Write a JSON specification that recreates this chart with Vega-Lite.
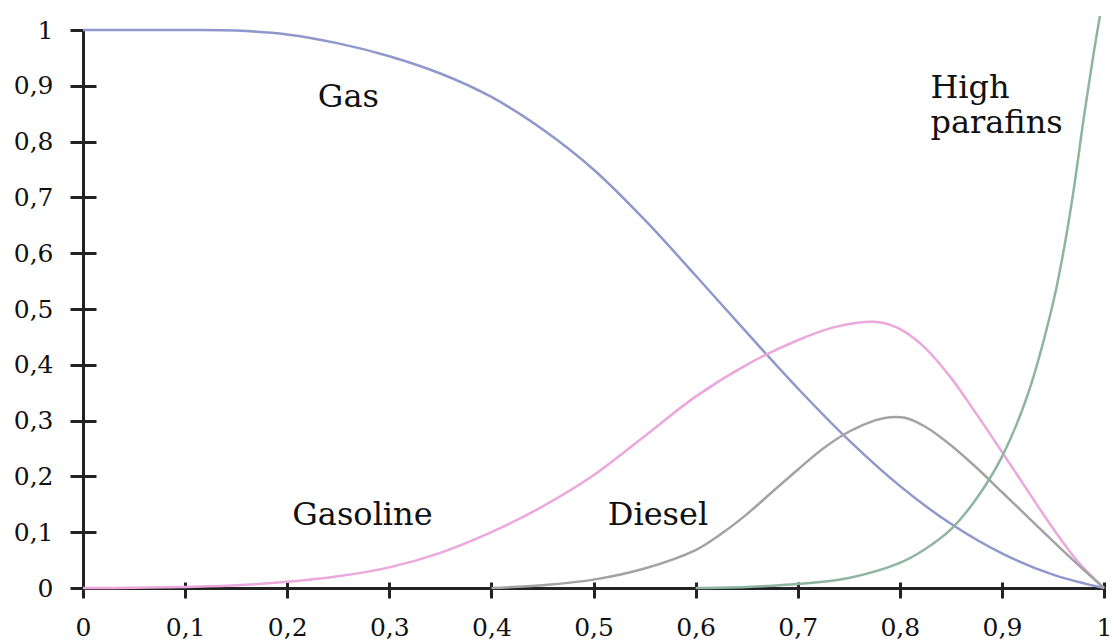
{
  "$schema": "https://vega.github.io/schema/vega-lite/v6.json",
  "width": 1021,
  "height": 558,
  "autosize": "none",
  "padding": {"left": 83, "top": 30, "right": 11, "bottom": 55},
  "background": "white",
  "config": {"view": {"stroke": null}, "font": "DejaVu Serif"},
  "datasets": {
    "curves": [
      {"s": "Gas", "x": 0, "y": 1}, {"s": "Gas", "x": 0.1, "y": 1}, {"s": "Gas", "x": 0.15, "y": 0.999}, {"s": "Gas", "x": 0.2, "y": 0.992},
      {"s": "Gas", "x": 0.25, "y": 0.976}, {"s": "Gas", "x": 0.3, "y": 0.953}, {"s": "Gas", "x": 0.35, "y": 0.922}, {"s": "Gas", "x": 0.4, "y": 0.88},
      {"s": "Gas", "x": 0.45, "y": 0.822}, {"s": "Gas", "x": 0.5, "y": 0.75}, {"s": "Gas", "x": 0.55, "y": 0.66}, {"s": "Gas", "x": 0.6, "y": 0.56},
      {"s": "Gas", "x": 0.65, "y": 0.458}, {"s": "Gas", "x": 0.7, "y": 0.358}, {"s": "Gas", "x": 0.75, "y": 0.265}, {"s": "Gas", "x": 0.8, "y": 0.183},
      {"s": "Gas", "x": 0.85, "y": 0.115}, {"s": "Gas", "x": 0.9, "y": 0.062}, {"s": "Gas", "x": 0.95, "y": 0.024}, {"s": "Gas", "x": 1, "y": 0},
      {"s": "Gasoline", "x": 0, "y": 0}, {"s": "Gasoline", "x": 0.05, "y": 0.0005}, {"s": "Gasoline", "x": 0.1, "y": 0.002}, {"s": "Gasoline", "x": 0.15, "y": 0.005},
      {"s": "Gasoline", "x": 0.2, "y": 0.011}, {"s": "Gasoline", "x": 0.25, "y": 0.021}, {"s": "Gasoline", "x": 0.3, "y": 0.037}, {"s": "Gasoline", "x": 0.35, "y": 0.063},
      {"s": "Gasoline", "x": 0.4, "y": 0.1}, {"s": "Gasoline", "x": 0.45, "y": 0.146}, {"s": "Gasoline", "x": 0.5, "y": 0.202}, {"s": "Gasoline", "x": 0.55, "y": 0.272},
      {"s": "Gasoline", "x": 0.6, "y": 0.343}, {"s": "Gasoline", "x": 0.65, "y": 0.4}, {"s": "Gasoline", "x": 0.7, "y": 0.444}, {"s": "Gasoline", "x": 0.735, "y": 0.467},
      {"s": "Gasoline", "x": 0.76, "y": 0.476}, {"s": "Gasoline", "x": 0.775, "y": 0.477}, {"s": "Gasoline", "x": 0.79, "y": 0.472}, {"s": "Gasoline", "x": 0.805, "y": 0.459},
      {"s": "Gasoline", "x": 0.825, "y": 0.43}, {"s": "Gasoline", "x": 0.85, "y": 0.377},
      {"s": "Gasoline", "x": 0.875, "y": 0.312}, {"s": "Gasoline", "x": 0.9, "y": 0.244}, {"s": "Gasoline", "x": 0.925, "y": 0.175}, {"s": "Gasoline", "x": 0.95, "y": 0.107},
      {"s": "Gasoline", "x": 0.975, "y": 0.046}, {"s": "Gasoline", "x": 1, "y": 0},
      {"s": "Diesel", "x": 0.4, "y": 0}, {"s": "Diesel", "x": 0.45, "y": 0.005}, {"s": "Diesel", "x": 0.5, "y": 0.015}, {"s": "Diesel", "x": 0.55, "y": 0.035},
      {"s": "Diesel", "x": 0.6, "y": 0.068}, {"s": "Diesel", "x": 0.625, "y": 0.097}, {"s": "Diesel", "x": 0.65, "y": 0.132}, {"s": "Diesel", "x": 0.675, "y": 0.172},
      {"s": "Diesel", "x": 0.7, "y": 0.212}, {"s": "Diesel", "x": 0.725, "y": 0.25}, {"s": "Diesel", "x": 0.75, "y": 0.28}, {"s": "Diesel", "x": 0.775, "y": 0.3},
      {"s": "Diesel", "x": 0.79, "y": 0.306}, {"s": "Diesel", "x": 0.805, "y": 0.305}, {"s": "Diesel", "x": 0.825, "y": 0.289}, {"s": "Diesel", "x": 0.85, "y": 0.256},
      {"s": "Diesel", "x": 0.875, "y": 0.216}, {"s": "Diesel", "x": 0.9, "y": 0.172}, {"s": "Diesel", "x": 0.925, "y": 0.128}, {"s": "Diesel", "x": 0.95, "y": 0.084},
      {"s": "Diesel", "x": 0.975, "y": 0.041}, {"s": "Diesel", "x": 1, "y": 0},
      {"s": "High parafins", "x": 0.6, "y": 0}, {"s": "High parafins", "x": 0.65, "y": 0.002}, {"s": "High parafins", "x": 0.7, "y": 0.007}, {"s": "High parafins", "x": 0.75, "y": 0.018},
      {"s": "High parafins", "x": 0.8, "y": 0.045}, {"s": "High parafins", "x": 0.825, "y": 0.07}, {"s": "High parafins", "x": 0.85, "y": 0.105}, {"s": "High parafins", "x": 0.875, "y": 0.16},
      {"s": "High parafins", "x": 0.9, "y": 0.235}, {"s": "High parafins", "x": 0.925, "y": 0.345}, {"s": "High parafins", "x": 0.95, "y": 0.51}, {"s": "High parafins", "x": 0.96, "y": 0.6},
      {"s": "High parafins", "x": 0.97, "y": 0.71}, {"s": "High parafins", "x": 0.98, "y": 0.84}, {"s": "High parafins", "x": 0.99, "y": 0.96}, {"s": "High parafins", "x": 0.996, "y": 1.025}
    ],
    "labels": [
      {"label": "Gas", "x": 0.23, "y": 0.862},
      {"label": "Gasoline", "x": 0.205, "y": 0.113},
      {"label": "Diesel", "x": 0.514, "y": 0.113},
      {"label": "High\nparafins", "x": 0.83, "y": 0.878}
    ]
  },
  "layer": [
    {
      "data": {"name": "curves"},
      "mark": {"type": "line", "interpolate": "catmull-rom", "strokeWidth": 2.5, "clip": false},
      "encoding": {
        "x": {"field": "x", "type": "quantitative", "scale": {"domain": [0, 1], "nice": false, "zero": false},
          "axis": {"orient": "bottom", "values": [0, 0.1, 0.2, 0.3, 0.4, 0.5, 0.6, 0.7, 0.8, 0.9, 1], "title": null, "grid": false,
            "domainColor": "#222", "domainWidth": 3, "tickColor": "#222", "tickWidth": 3, "tickSize": 10,
            "labelFont": "DejaVu Serif", "labelFontSize": 25, "labelColor": "#111", "labelPadding": 17,
            "labelFlush": false, "labelOverlap": false, "labelExpr": "replace(format(datum.value, '~g'), '.', ',')"}},
        "y": {"field": "y", "type": "quantitative", "scale": {"domain": [0, 1], "nice": false},
          "axis": {"orient": "left", "values": [0, 0.1, 0.2, 0.3, 0.4, 0.5, 0.6, 0.7, 0.8, 0.9, 1], "title": null, "grid": false,
            "domainColor": "#222", "domainWidth": 3, "tickColor": "#222", "tickWidth": 3, "tickSize": 13,
            "labelFont": "DejaVu Serif", "labelFontSize": 25, "labelColor": "#111", "labelPadding": 17,
            "labelFlush": false, "labelOverlap": false, "labelExpr": "replace(format(datum.value, '~g'), '.', ',')"}},
        "color": {"field": "s", "type": "nominal", "legend": null,
          "scale": {"domain": ["Gas", "Gasoline", "Diesel", "High parafins"], "range": ["#8f98cc", "#eca7dd", "#a3a3a3", "#8db59f"]}}
      }
    },
    {
      "data": {"values": [{"x": 0, "y": 0}]},
      "mark": {"type": "point", "opacity": 0},
      "encoding": {
        "x": {"field": "x", "type": "quantitative", "scale": {"domain": [0, 1], "nice": false, "zero": false},
          "axis": {"orient": "bottom", "values": [0, 0.1, 0.2, 0.3, 0.4, 0.5, 0.6, 0.7, 0.8, 0.9, 1], "title": null, "grid": false,
            "domain": false, "labels": false, "tickColor": "#222", "tickWidth": 3, "tickSize": -6}},
        "y": {"field": "y", "type": "quantitative", "scale": {"domain": [0, 1], "nice": false},
          "axis": {"orient": "left", "values": [0, 0.1, 0.2, 0.3, 0.4, 0.5, 0.6, 0.7, 0.8, 0.9], "title": null, "grid": false,
            "domain": false, "labels": false, "tickColor": "#222", "tickWidth": 3, "tickSize": -13}}
      }
    },
    {
      "data": {"name": "labels"},
      "mark": {"type": "text", "align": "left", "baseline": "alphabetic", "font": "DejaVu Serif", "fontSize": 32, "lineBreak": "\n", "lineHeight": 35, "color": "#111"},
      "encoding": {
        "x": {"field": "x", "type": "quantitative", "axis": null},
        "y": {"field": "y", "type": "quantitative", "axis": null},
        "text": {"field": "label"}
      }
    }
  ],
  "resolve": {"axis": {"x": "independent", "y": "independent"}}
}
